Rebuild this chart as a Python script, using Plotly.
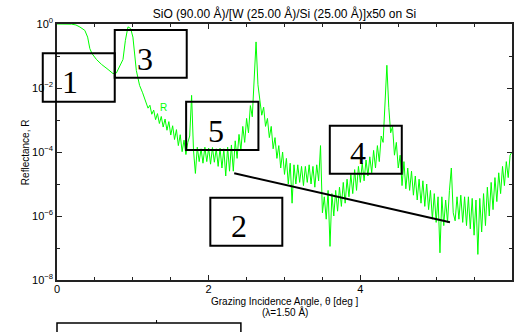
import plotly.graph_objects as go

# ---------------- data ----------------
theta_smooth = [0.0, 0.1, 0.193, 0.249, 0.302, 0.367, 0.404, 0.433, 0.463, 0.521,
                0.586, 0.673, 0.739, 0.783, 0.827, 0.87, 0.902, 0.936, 0.971, 1.001,
                1.046, 1.089, 1.129, 1.15]
logR_smooth = [-0.0, -0.002, -0.005, -0.03, -0.094, -0.2, -0.41, -0.77, -0.93, -1.11,
               -1.26, -1.42, -1.55, -1.53, -1.29, -1.11, -0.51, -0.09, -0.14, -0.41,
               -1.45, -1.92, -2.15, -2.3]

theta_fringe = [
    1.175, 1.2, 1.225, 1.25, 1.275, 1.3, 1.325, 1.35, 1.375, 1.4,
    1.425, 1.45, 1.475, 1.5, 1.525, 1.55, 1.575, 1.6, 1.625, 1.65,
    1.675, 1.7, 1.725, 1.75, 1.775, 1.8, 1.825, 1.85, 1.875, 1.9,
    1.925, 1.95, 1.975, 2.0, 2.025, 2.05, 2.075, 2.1, 2.125, 2.15,
    2.175, 2.2, 2.225, 2.25, 2.275, 2.3, 2.325, 2.35, 2.375, 2.4,
    2.425, 2.45, 2.475, 2.5, 2.525, 2.55, 2.575, 2.6, 2.625, 2.65,
    2.675, 2.7, 2.725, 2.75, 2.775, 2.8, 2.825, 2.85, 2.875, 2.9,
    2.925, 2.95, 2.975, 3.0, 3.025, 3.05, 3.075, 3.1, 3.125, 3.15,
    3.175, 3.2, 3.225, 3.25, 3.275, 3.3, 3.325, 3.35, 3.375, 3.4,
    3.425, 3.45, 3.475, 3.5, 3.525, 3.55, 3.575, 3.6, 3.625, 3.65,
    3.675, 3.7, 3.725, 3.75, 3.775, 3.8, 3.825, 3.85, 3.875, 3.9,
    3.925, 3.95, 3.975, 4.0, 4.025, 4.05, 4.075, 4.1, 4.125, 4.15,
    4.175, 4.2, 4.225, 4.25, 4.275, 4.3, 4.325, 4.35, 4.375, 4.4,
    4.425, 4.45, 4.475, 4.5, 4.525, 4.55, 4.575, 4.6, 4.625, 4.65,
    4.675, 4.7, 4.725, 4.75, 4.775, 4.8, 4.825, 4.85, 4.875, 4.9,
    4.925, 4.95, 4.975, 5.0, 5.025, 5.05, 5.075, 5.1, 5.125, 5.15,
    5.175, 5.2, 5.225, 5.25, 5.275, 5.3, 5.325, 5.35, 5.375, 5.4,
    5.425, 5.45, 5.475, 5.5, 5.525, 5.55, 5.575, 5.6, 5.625, 5.65,
    5.675, 5.7, 5.725, 5.75, 5.775, 5.8, 5.825, 5.85, 5.875, 5.9,
    5.925, 5.95, 5.975, 6.0]
logR_fringe = [
    -2.41, -2.63, -2.54, -2.82, -2.69, -2.99, -2.80, -3.11, -2.89, -3.22,
    -2.97, -3.32, -3.05, -3.47, -3.18, -3.61, -3.30, -3.80, -3.46, -3.99,
    -3.63, -4.08, -3.70, -3.50, -2.23, -3.95, -4.67, -3.85, -4.30, -3.90,
    -4.35, -3.85, -4.30, -3.88, -4.38, -3.86, -4.32, -3.90, -4.45, -3.88,
    -4.50, -3.90, -4.75, -3.85, -4.60, -3.78, -4.60, -3.65, -4.20, -3.45,
    -3.95, -3.20, -3.70, -2.95, -3.40, -2.55, -2.90, -1.60, -0.56, -1.90,
    -2.30, -2.85, -2.60, -3.20, -2.95, -3.55, -3.20, -3.90, -3.55, -4.20,
    -3.80, -4.50, -4.00, -4.70, -4.20, -5.00, -4.35, -5.60, -4.40, -5.00,
    -4.40, -4.95, -4.45, -5.05, -4.45, -4.95, -4.40, -5.00, -4.45, -5.10,
    -4.40, -4.90, -3.80, -5.90, -5.40, -6.10, -5.20, -6.95, -5.30, -6.00,
    -5.20, -5.85, -5.10, -5.70, -4.95, -5.60, -4.85, -5.40, -4.70, -5.30,
    -4.55, -5.20, -4.45, -4.95, -4.35, -4.90, -4.25, -4.75, -4.15, -4.65,
    -3.95, -4.50, -3.80, -4.30, -3.50, -3.70, -2.50, -1.29, -2.60, -3.40,
    -3.20, -4.10, -3.70, -4.50, -4.10, -5.05, -4.30, -5.15, -4.50, -5.20,
    -4.60, -5.35, -4.75, -5.50, -4.85, -5.60, -4.90, -5.70, -5.00, -5.80,
    -5.20, -6.10, -5.30, -6.20, -5.40, -7.15, -5.40, -6.30, -5.50, -6.20,
    -5.20, -4.50, -5.90, -6.15, -5.40, -6.10, -5.35, -6.20, -5.40, -6.30,
    -5.40, -6.40, -5.45, -6.60, -5.50, -7.20, -5.45, -6.50, -5.30, -6.30,
    -5.10, -6.00, -4.95, -5.80, -4.80, -5.55, -4.65, -5.30, -4.45, -5.05,
    -4.30, -4.80, -4.10, -4.00]

x_tick_vals = [0, 2, 4, 6]
x_tick_text = ["0", "2", "4", "6"]
x_minor_vals = [0.5, 1, 1.5, 2.5, 3, 3.5, 4.5, 5, 5.5]
y_tick_vals = [1, 1e-2, 1e-4, 1e-6, 1e-8]
y_tick_text = ["10<sup>0</sup>", "10<sup>−2</sup>", "10<sup>−4</sup>",
               "10<sup>−6</sup>", "10<sup>−8</sup>"]
y_minor_vals = [1e-1, 1e-3, 1e-5, 1e-7]

title_text = "SiO (90.00 Å)/[W (25.00 Å)/Si (25.00 Å)]x50 on Si"
x_title_1 = "Grazing Incidence Angle, θ [deg ]"
x_title_2 = "(λ=1.50 Å)"
y_title = "Reflectance, R"
box_labels = ["1", "3", "5", "4", "2"]

theta = theta_smooth + theta_fringe
R = [10 ** v for v in logR_smooth + logR_fringe]

# ---------------- layout helpers ----------------
W, H = 515, 332
ML, MR, MT, MB = 57, 1, 24, 52
PW, PH = W - ML - MR, H - MT - MB


def px(x):
    return (x - ML) / PW


def py(y):
    return (H - MB - y) / PH


SANS = "Liberation Sans, Arial, Helvetica, sans-serif"
SERIF = "Liberation Serif, Times New Roman, serif"

fig = go.Figure()
fig.add_trace(go.Scatter(x=theta, y=R, mode="lines",
                         line=dict(color="#00ff00", width=1),
                         showlegend=False, hoverinfo="skip"))

axis_common = dict(showline=True, linecolor="#222", linewidth=1.5, mirror="ticks",
                   ticks="inside", ticklen=5, tickwidth=1, tickcolor="#222",
                   showgrid=False, zeroline=False,
                   tickfont=dict(family=SANS, size=11, color="black"))

fig.update_layout(
    width=W, height=H,
    margin=dict(l=ML, r=MR, t=MT, b=MB, pad=0),
    paper_bgcolor="white", plot_bgcolor="white",
    title=dict(text=title_text, x=0.5, xref="paper", xanchor="center",
               y=1 - 14 / H, yanchor="middle",
               font=dict(family=SANS, size=12, color="black")),
    xaxis=dict(range=[0, 6], tickmode="array", tickvals=x_tick_vals, ticktext=x_tick_text,
               ticklabelstandoff=-2,
               minor=dict(tickmode="array", tickvals=x_minor_vals, ticks="inside",
                          ticklen=3, tickcolor="#222"),
               **axis_common),
    yaxis=dict(type="log", range=[-8, 0], tickmode="array", tickvals=y_tick_vals,
               ticktext=y_tick_text,
               minor=dict(tickmode="array", tickvals=y_minor_vals, ticks="inside",
                          ticklen=3, tickcolor="#222"),
               **axis_common),
)

ann = []
ann.append(dict(text=x_title_1, x=0.5, y=py(301), xref="paper", yref="paper",
                showarrow=False, font=dict(family=SANS, size=10, color="black"),
                xanchor="center", yanchor="middle"))
ann.append(dict(text=x_title_2, x=0.5, y=py(311.5), xref="paper", yref="paper",
                showarrow=False, font=dict(family=SANS, size=10, color="black"),
                xanchor="center", yanchor="middle"))
ann.append(dict(text=y_title, x=px(25), y=py(152), xref="paper", yref="paper",
                showarrow=False, textangle=-90,
                font=dict(family=SANS, size=10, color="black"),
                xanchor="center", yanchor="middle"))
ann.append(dict(text="R", x=px(164), y=py(107), xref="paper", yref="paper",
                showarrow=False, font=dict(family=SANS, size=10, color="#00ff00"),
                xanchor="center", yanchor="middle"))

# numbered callout boxes (pixel positions)
boxes = [(42.7, 53.3, 115, 101.7), (115, 30, 187.3, 77.7), (186.7, 101.7, 259.3, 150),
         (331, 125.7, 403.3, 173.7), (211, 197.7, 283.3, 245.7)]
label_pos = [(70, 82), (145, 59), (217, 131), (359, 153), (240, 226)]

shapes = []
for (x0, y0, x1, y1) in boxes:
    shapes.append(dict(type="rect", xref="paper", yref="paper",
                       x0=px(x0), x1=px(x1), y0=py(y1), y1=py(y0),
                       line=dict(color="black", width=2), fillcolor="rgba(0,0,0,0)"))
for lab, (lx, ly) in zip(box_labels, label_pos):
    ann.append(dict(text=lab, x=px(lx), y=py(ly), xref="paper", yref="paper",
                    showarrow=False, font=dict(family=SERIF, size=32, color="black"),
                    xanchor="center", yanchor="middle"))

shapes.append(dict(type="line", xref="paper", yref="paper",
                   x0=px(235), y0=py(173.3), x1=px(451.7), y1=py(222.3),
                   line=dict(color="black", width=2)))
# partial box at the bottom edge
shapes.append(dict(type="rect", xref="paper", yref="paper",
                   x0=px(57), x1=px(241.7), y0=py(345), y1=py(323),
                   line=dict(color="black", width=1.5), fillcolor="rgba(0,0,0,0)"))
shapes.append(dict(type="line", xref="paper", yref="paper",
                   x0=px(157), y0=py(323), x1=px(157), y1=py(320),
                   line=dict(color="black", width=1)))

fig.update_layout(annotations=ann, shapes=shapes)
fig.write_html("out.html")
